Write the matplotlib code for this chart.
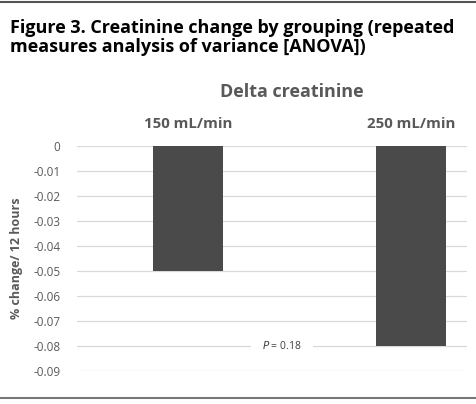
import matplotlib
matplotlib.use('Agg')
from matplotlib import pyplot as plt
from matplotlib.lines import Line2D

groups = ['150 mL/min', '250 mL/min']
delta = [-0.05, -0.08]
yticks = [0, -0.01, -0.02, -0.03, -0.04, -0.05, -0.06, -0.07, -0.08, -0.09]
p_text = '$\\it{P}$ = 0.18'

plt.rcParams['font.family'] = ['Open Sans', 'DejaVu Sans']

fig = plt.figure(figsize=(4.77, 4.04), dpi=100)
ax = fig.add_axes([0.1614, 0.0817, 0.8176, 0.5569])

x = range(len(groups))
ax.bar(x, delta, width=0.314, color='#4a4a4a', zorder=3)
ax.set_xlim(-0.498, 1.251)
ax.set_ylim(-0.09, 0)
ax.set_yticks(yticks)
ax.set_yticklabels([('%g' % t) for t in yticks], fontsize=8.5, color='#595959')
ax.tick_params(axis='y', length=0, pad=12)
ax.set_xticks([])
ax.grid(axis='y', color='#d9d9d9', linewidth=0.9, zorder=0)
ax.set_axisbelow(True)
for s in ax.spines.values():
    s.set_visible(False)
ax.set_ylabel('% change/ 12 hours', fontsize=9, color='#595959', fontweight='bold', labelpad=7)

# category labels above the bars
for i, g in enumerate(groups):
    ax.text(i, 1.1, g, transform=ax.get_xaxis_transform(),
            ha='center', va='center', fontsize=10.8, fontweight='bold', color='#595959')

ax.text(0.42, -0.08, p_text, ha='center', va='center', fontsize=7.5, color='#404040',
        bbox=dict(facecolor='white', edgecolor='none', pad=8), zorder=4)

fig.text(0.612, 0.772, 'Delta creatinine', ha='center', va='center', fontsize=13,
         fontweight='bold', color='#595959')
fig.text(0.021, 0.908, 'Figure 3. Creatinine change by grouping (repeated\nmeasures analysis of variance [ANOVA])',
         ha='left', va='center', fontsize=13, fontweight='bold', color='black', linespacing=1.05)

fig.add_artist(Line2D([0, 1], [0.995, 0.995], color='#555555', linewidth=1.5, transform=fig.transFigure))
fig.add_artist(Line2D([0, 1], [0.015, 0.015], color='#777777', linewidth=1.5, transform=fig.transFigure))

fig.savefig('out.png', dpi=100)
